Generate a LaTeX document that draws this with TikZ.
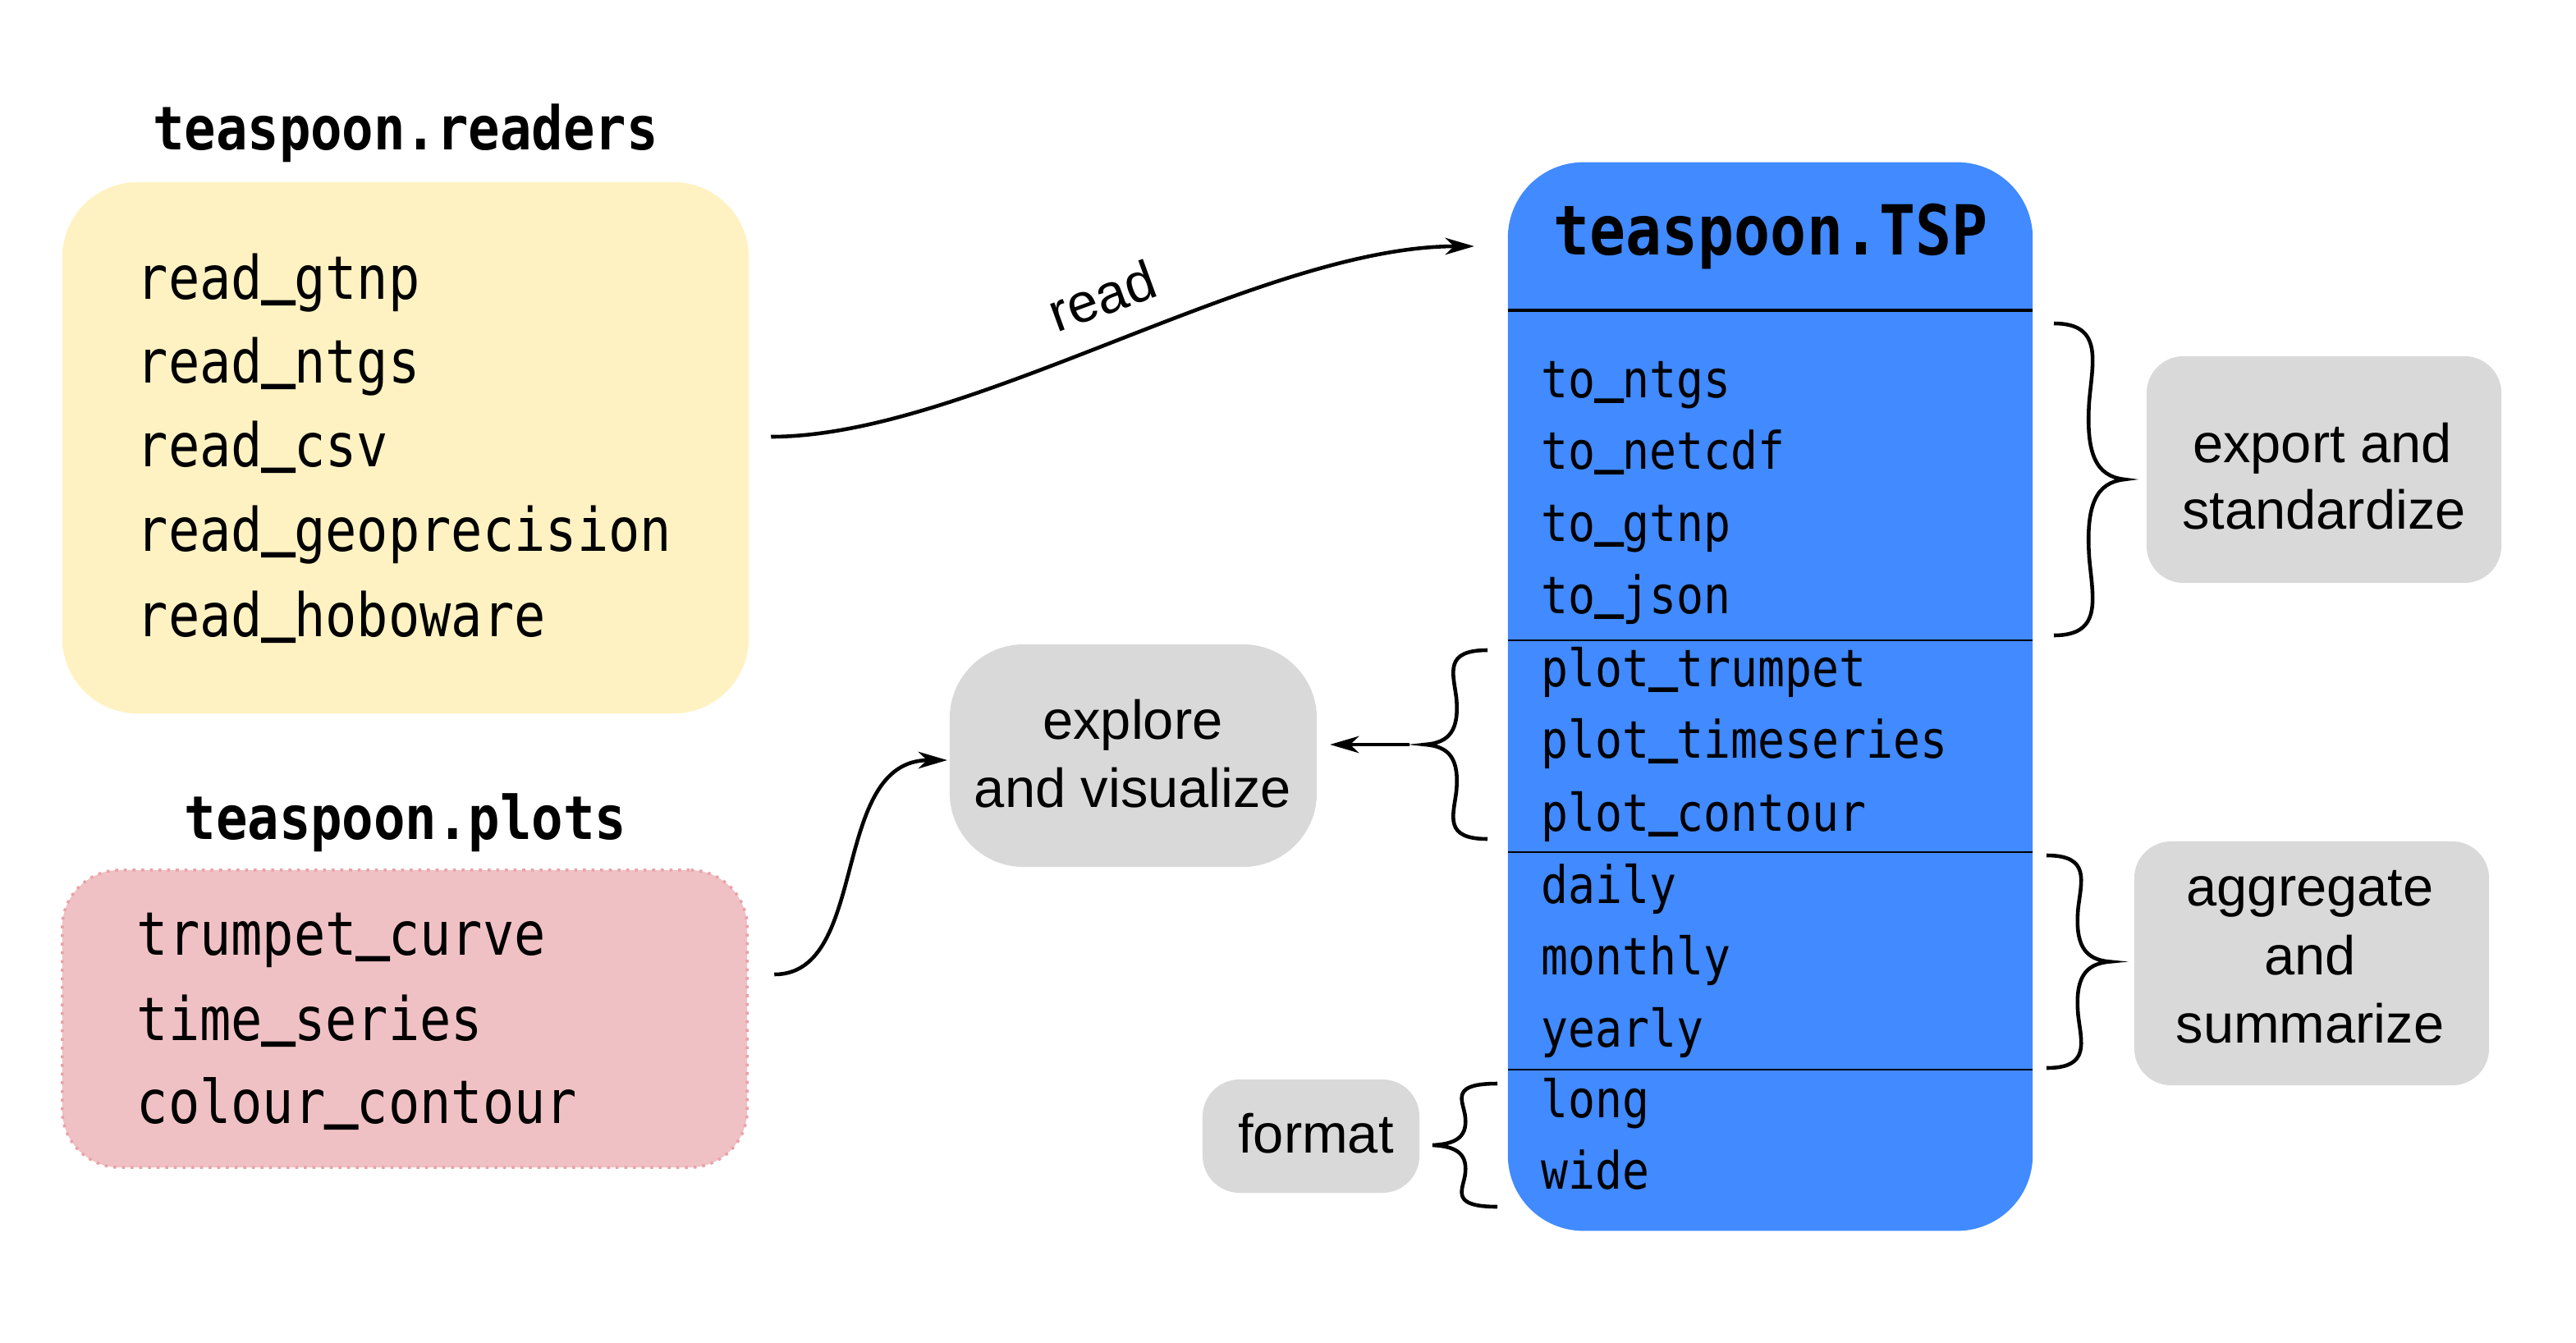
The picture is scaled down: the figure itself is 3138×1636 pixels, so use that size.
\documentclass[tikz,border=0pt]{standalone}
\usepackage{fontspec}
\setmainfont{Liberation Sans}
\newfontfamily\monof[FakeStretch=0.87]{DejaVu Sans Mono}
\newfontfamily\usf[FakeStretch=0.87,FakeBold=5]{DejaVu Sans Mono}
\newcommand{\us}{{\usf\raisebox{0.15em}{\_}}}
\usetikzlibrary{arrows.meta,calc}
\definecolor{ylw}{HTML}{FFF2C2}
\definecolor{pnk}{HTML}{F0C1C4}
\definecolor{pnkb}{HTML}{E9A2A8}
\definecolor{blu}{HTML}{418AFF}
\definecolor{gry}{HTML}{D9D9D9}
\newcommand{\mybrace}[4]{%
  \begin{scope}[shift={(#1,#2)}, xscale=#3, yscale=#4]
    \draw[brc] (0,0) .. controls (0.7,0) and (0.55,0.12) .. (0.5,0.25)
      .. controls (0.45,0.42) and (0.6,0.49) .. (1,0.5)
      .. controls (0.6,0.51) and (0.45,0.58) .. (0.5,0.75)
      .. controls (0.55,0.88) and (0.7,1) .. (0,1);
  \end{scope}}
\begin{document}
\begin{tikzpicture}[x=0.01cm,y=-0.01cm,
  box/.style={inner sep=0pt, outer sep=0pt},
  item/.style={anchor=base west, inner sep=0pt, font=\monof\fontsize{20.8}{24}\selectfont},
  titem/.style={anchor=base west, inner sep=0pt, font=\monof\fontsize{17.9}{21}\selectfont},
  ttl/.style={anchor=base, inner sep=0pt, font=\monof\bfseries\fontsize{20.9}{24}\selectfont},
  lbl/.style={anchor=base, inner sep=0pt, font=\fontsize{19}{23}\selectfont},
  graybox/.style={box, fill=gry, rounded corners=4.5mm},
  arr/.style={line width=1.3pt, -{Stealth[length=10pt,width=5.8pt,inset=3pt]}},
  brc/.style={line width=1.3pt},
]
\useasboundingbox (0,0) rectangle (3138,1636);

% readers
\node[box, fill=ylw, rounded corners=9.2mm, minimum width=83.6mm, minimum height=64.7mm] (readers) at (494,545.5) {};
\node[ttl] (rtitle) at (494,182) {teaspoon.readers};
\node[item] (r1) at (166,364) {read\us gtnp};
\node[item] (r2) at (166,466) {read\us ntgs};
\node[item] (r3) at (166,568) {read\us csv};
\node[item] (r4) at (166,671) {read\us geoprecision};
\node[item] (r5) at (166,775) {read\us hoboware};

% plots
\node[box, fill=pnk, draw=pnkb, dotted, line width=1pt, rounded corners=7mm, minimum width=83.4mm, minimum height=36.2mm] (plots) at (493,1241) {};
\node[ttl] (ptitle) at (494,1022) {teaspoon.plots};
\node[item] (p1) at (166,1163) {trumpet\us curve};
\node[item] (p2) at (166,1267) {time\us series};
\node[item] (p3) at (166,1368) {colour\us contour};

% TSP
\node[box, fill=blu, rounded corners=9.2mm, minimum width=63.9mm, minimum height=130.1mm] (tsp) at (2156.5,848.5) {};
\node[ttl, font=\monof\bfseries\fontsize{23.9}{28}\selectfont] (ttitle) at (2157,310) {teaspoon.TSP};
\draw[line width=1.35pt] (tsp.west |- 0,378) -- (tsp.east |- 0,378);
\draw[line width=0.5pt] (tsp.west |- 0,780) -- (tsp.east |- 0,780);
\draw[line width=0.5pt] (tsp.west |- 0,1038) -- (tsp.east |- 0,1038);
\draw[line width=0.5pt] (tsp.west |- 0,1303) -- (tsp.east |- 0,1303);
\node[titem] (t1) at (1877,484) {to\us ntgs};
\node[titem] (t2) at (1877,571) {to\us netcdf};
\node[titem] (t3) at (1877,659) {to\us gtnp};
\node[titem] (t4) at (1877,747) {to\us json};
\node[titem] (t5) at (1877,836) {plot\us trumpet};
\node[titem] (t6) at (1877,923) {plot\us timeseries};
\node[titem] (t7) at (1877,1012) {plot\us contour};
\node[titem] (t8) at (1877,1100) {daily};
\node[titem] (t9) at (1877,1187) {monthly};
\node[titem] (t10) at (1877,1275) {yearly};
\node[titem] (t11) at (1877,1361) {long};
\node[titem] (t12) at (1877,1448) {wide};

% gray boxes
\node[graybox, rounded corners=9mm, minimum width=44.7mm, minimum height=27.1mm] (explore) at (1380.5,920.5) {};
\node[lbl] (e1) at (1380,900) {explore};
\node[lbl] (e2) at (1380,983) {and visualize};

\node[graybox, minimum width=43.2mm, minimum height=27.6mm] (export) at (2831,572) {};
\node[lbl] (x1) at (2829,563) {export and};
\node[lbl] (x2) at (2831,644) {standardize};

\node[graybox, minimum width=43.2mm, minimum height=29.7mm] (aggr) at (2816,1173.5) {};
\node[lbl] (a1) at (2814,1103) {aggregate};
\node[lbl] (a2) at (2814,1187) {and};
\node[lbl] (a3) at (2814,1270) {summarize};

\node[graybox, minimum width=26.4mm, minimum height=13.8mm] (format) at (1597,1384) {};
\node[lbl] (f1) at (1603,1404) {format};

% braces
\mybrace{2502}{394}{86}{380}
\mybrace{2493}{1042}{77}{259}
\mybrace{1812}{792}{-76}{230}
\mybrace{1824}{1320}{-79}{150}

% connectors
\coordinate (rs) at ($(readers.east)+(27,-13.5)$);
\coordinate (re) at ($(tsp.west)+(-41,-548.5)$);
\draw[arr] (rs) .. controls ++(241,0) and ++(-261,0) .. (re);
\node[lbl, anchor=center, rotate=20] (readlbl) at (1342,360) {read};

\coordinate (ps) at ($(plots.east)+(33,-54)$);
\coordinate (pe) at ($(explore.west)+(-3,5.5)$);
\draw[arr] (ps) .. controls ++(117,0) and ++(-144,0) .. (pe);

\coordinate (bs) at ($(explore.east)+(113,-13.5)$);
\coordinate (be) at ($(explore.east)+(16,-13.5)$);
\draw[arr] (bs) -- (be);
\end{tikzpicture}
\end{document}
